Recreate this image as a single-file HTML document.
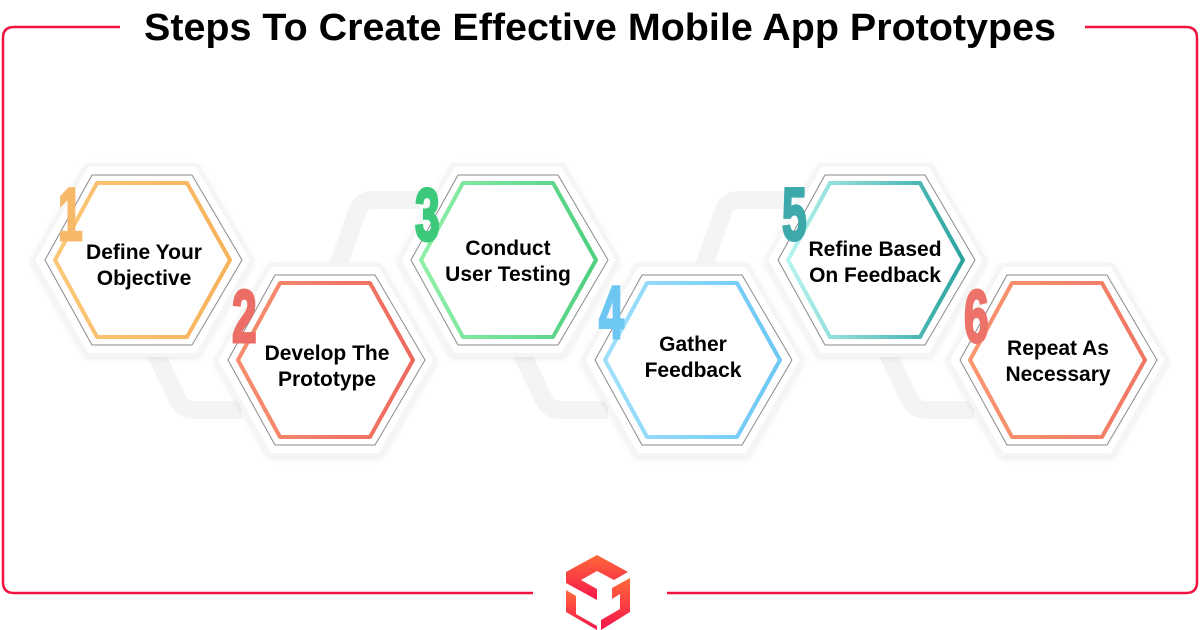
<!DOCTYPE html>
<html><head><meta charset="utf-8"><style>
html,body{margin:0;padding:0;background:#fff;}
svg{display:block;}
text{font-family:"Liberation Sans",Arial,sans-serif;}
</style></head><body>
<svg width="1200" height="630" viewBox="0 0 1200 630" xmlns="http://www.w3.org/2000/svg">
<defs>
<filter id="sh" x="-20%" y="-20%" width="140%" height="140%">
<feDropShadow dx="0" dy="2" stdDeviation="3" flood-color="#000" flood-opacity="0.08"/>
</filter>
<linearGradient id="g1" x1="0" y1="0" x2="1" y2="0"><stop offset="0" stop-color="#fbc776"/><stop offset="1" stop-color="#f7b25c"/></linearGradient>
<linearGradient id="g2" x1="0" y1="0" x2="1" y2="0"><stop offset="0" stop-color="#f58e6e"/><stop offset="1" stop-color="#ee6a5e"/></linearGradient>
<linearGradient id="g3" x1="0" y1="0" x2="1" y2="0"><stop offset="0" stop-color="#8ff0a8"/><stop offset="1" stop-color="#4fcf80"/></linearGradient>
<linearGradient id="g4" x1="0" y1="0" x2="1" y2="0"><stop offset="0" stop-color="#9fe0fb"/><stop offset="1" stop-color="#6cc8f6"/></linearGradient>
<linearGradient id="g5" x1="0" y1="0" x2="1" y2="0"><stop offset="0" stop-color="#b6f4f0"/><stop offset="1" stop-color="#2aa39f"/></linearGradient>
<linearGradient id="g6" x1="0" y1="0" x2="1" y2="0"><stop offset="0" stop-color="#f9966f"/><stop offset="1" stop-color="#ef7766"/></linearGradient>
<linearGradient id="lg" x1="0" y1="0" x2="0" y2="1"><stop offset="0" stop-color="#ff6a3a"/><stop offset="1" stop-color="#f5154b"/></linearGradient>
<g id="base">
<polygon points="-109,0 -55,-95 55,-95 110,0 55,95 -55,95" fill="#fff" stroke="#f5f5f5" stroke-width="4" stroke-linejoin="round" filter="url(#sh)"/>
<polygon points="-97,0 -50,-85 50,-85 100,0 50,85 -50,85" fill="#fff" stroke="#8a8a8a" stroke-width="1" stroke-linejoin="round"/>
</g>
<polygon id="inner" points="-87,0 -45,-77 45,-77 88,0 45,77 -45,77" stroke-width="4" stroke-linejoin="round" fill="#fff"/>
</defs>

<g fill="none" stroke="#f2133f" stroke-width="2.5">
<path d="M120 27 H14 Q3 27 3 38 V582 Q3 593 14 593 H533"/>
<path d="M1085 27 H1186 Q1197 27 1197 38 V582 Q1197 593 1186 593 H667"/>
</g>
<text x="600" y="40" text-anchor="middle" font-size="38" font-weight="bold" fill="#000" textLength="912" lengthAdjust="spacingAndGlyphs">Steps To Create Effective Mobile App Prototypes</text>

<g fill="none" stroke="#f4f4f4" stroke-width="18" stroke-linecap="butt" stroke-linejoin="round">
<path d="M154 350 L178 400 Q183 410 195 410 L242 410"/>
<path d="M337 268 L357 212 Q361 200 373 200 L420 200"/>
<path d="M520 350 L544 400 Q549 410 561 410 L608 410"/>
<path d="M703 268 L723 212 Q727 200 739 200 L786 200"/>
<path d="M886 350 L910 400 Q915 410 927 410 L974 410"/>
</g>

<g transform="translate(142,260)"><use href="#base"/>
<use href="#inner" stroke="url(#g1)"/>
<text x="-140" y="-20" font-size="74" font-weight="bold" fill="#f7b869" stroke="#f7b869" stroke-width="3" transform="scale(0.6,1)">1</text>
<text x="2" y="-1" text-anchor="middle" font-size="21" font-weight="bold" fill="#000">Define Your</text>
<text x="2" y="25" text-anchor="middle" font-size="21" font-weight="bold" fill="#000">Objective</text></g>

<g transform="translate(325,360)"><use href="#base"/>
<use href="#inner" stroke="url(#g2)"/>
<text x="-155" y="-18" font-size="74" font-weight="bold" fill="#ec6d66" stroke="#ec6d66" stroke-width="3" transform="scale(0.6,1)">2</text>
<text x="2" y="0" text-anchor="middle" font-size="21" font-weight="bold" fill="#000">Develop The</text>
<text x="2" y="26" text-anchor="middle" font-size="21" font-weight="bold" fill="#000">Prototype</text></g>

<g transform="translate(508,260)"><use href="#base"/>
<use href="#inner" stroke="url(#g3)"/>
<text x="-155" y="-20" font-size="74" font-weight="bold" fill="#3dc97c" stroke="#3dc97c" stroke-width="3" transform="scale(0.6,1)">3</text>
<text x="0" y="-5" text-anchor="middle" font-size="21" font-weight="bold" fill="#000">Conduct</text>
<text x="0" y="21" text-anchor="middle" font-size="21" font-weight="bold" fill="#000">User Testing</text></g>

<g transform="translate(692,360)"><use href="#base"/>
<use href="#inner" stroke="url(#g4)"/>
<text x="-155" y="-22" font-size="74" font-weight="bold" fill="#6ec6f3" stroke="#6ec6f3" stroke-width="3" transform="scale(0.6,1)">4</text>
<text x="1" y="-9" text-anchor="middle" font-size="21" font-weight="bold" fill="#000">Gather</text>
<text x="1" y="17" text-anchor="middle" font-size="21" font-weight="bold" fill="#000">Feedback</text></g>

<g transform="translate(875,260)"><use href="#base"/>
<use href="#inner" stroke="url(#g5)"/>
<text x="-155" y="-20" font-size="74" font-weight="bold" fill="#3ea9ab" stroke="#3ea9ab" stroke-width="3" transform="scale(0.6,1)">5</text>
<text x="0" y="-4" text-anchor="middle" font-size="21" font-weight="bold" fill="#000">Refine Based</text>
<text x="0" y="22" text-anchor="middle" font-size="21" font-weight="bold" fill="#000">On Feedback</text></g>

<g transform="translate(1057,360)"><use href="#base"/>
<use href="#inner" stroke="url(#g6)"/>
<text x="-155" y="-18" font-size="74" font-weight="bold" fill="#ec726a" stroke="#ec726a" stroke-width="3" transform="scale(0.6,1)">6</text>
<text x="1" y="-5" text-anchor="middle" font-size="21" font-weight="bold" fill="#000">Repeat As</text>
<text x="1" y="21" text-anchor="middle" font-size="21" font-weight="bold" fill="#000">Necessary</text></g>

<g fill="url(#lg)">
<polygon points="597,555 628,572 614,580 597,571 581,580 597,589 597,600 566,583 566,572"/>
<polygon points="566,590 576,596 576,614 597,626 597,630 566,612"/>
<polygon points="630,578 630,612 601,630 601,620 620,609 620,594 612,599 612,588"/>
</g>
</svg>
</body></html>
